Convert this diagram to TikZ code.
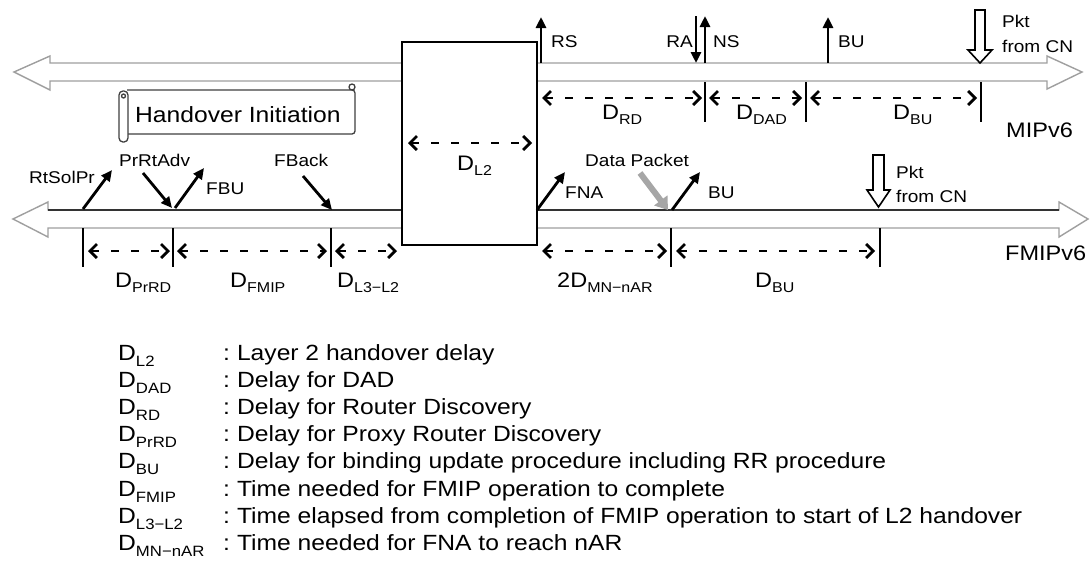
\documentclass[tikz,border=0pt]{standalone}
\usepackage{graphicx}
\usepackage{fontspec}
\setmainfont{Liberation Sans}[FakeStretch=1.12]
\usetikzlibrary{arrows.meta}
\newcommand\DD[1]{D\raisebox{-0.28em}{\scalebox{0.68}{#1}}}
\begin{document}
\begin{tikzpicture}[x=1pt,y=-1pt,
  lbl/.style={anchor=base west,inner sep=0pt,font=\fontsize{17}{20}\selectfont},
  dlbl/.style={anchor=base west,inner sep=0pt,font=\fontsize{21}{24}\selectfont},
  leg/.style={anchor=base west,inner sep=0pt,font=\fontsize{22}{25}\selectfont},
  msg/.style={line width=2.8pt,-{Triangle[length=11pt,width=10pt]}},
  pktmsg/.style={line width=6pt,draw=gray!70,-{Triangle[length=12pt,width=16pt]}},
  dimline/.style={line width=2.8pt,dash pattern=on 8pt off 12pt,
    {Straight Barb[length=7pt,width=14pt]}-{Straight Barb[length=7pt,width=14pt]}},
  tickline/.style={line width=2.7pt},
  bigarrow/.style={draw=gray!75,fill=white,line width=1.4pt},
  hollow/.style={draw=black,fill=white,line width=1.6pt,line join=miter},
  scroll/.style={draw=black!75,line width=1.3pt}]
\useasboundingbox[fill=white] (0,0) rectangle (1090,563);

% timelines
\draw[bigarrow] (50,63) -- (1047,63) -- (1047,56) -- (1082,72) -- (1047,89) -- (1047,81)
  -- (50,81) -- (50,90) -- (14,72) -- (50,56) -- cycle;
\draw[bigarrow] (48,210) -- (1059,210) -- (1059,202) -- (1088,219) -- (1059,237) -- (1059,228)
  -- (48,228) -- (48,237) -- (13,219) -- (48,202) -- cycle;
\draw[black!80,line width=1.2pt] (48,210) -- (1059,210);

% handover initiation scroll
\draw[scroll,rounded corners=3pt] (127,90) -- (355,90) -- (355,134) -- (127,134);
\draw[scroll] (352,87) circle[radius=3pt];
\draw[scroll,fill=white,rounded corners=4pt] (119,91) rectangle (128,142);
\draw[scroll] (123.5,96) circle[radius=2pt];
\node[anchor=base west,inner sep=0pt,font=\fontsize{22}{26}\selectfont] (hi) at (135,122) {Handover Initiation};

% L2 box
\draw[line width=1.2pt,fill=white] (402,42) rectangle (537,245);
\coordinate (l2a) at (408,143); \coordinate (l2b) at (532,143);
\draw[dimline] (l2a) -- (l2b);
\node[dlbl] (dl2) at (457,170) {\DD{L2}};

% MIPv6 messages
\coordinate (rs0) at (541,63); \coordinate (rs1) at (541,17);
\coordinate (ra0) at (696,16); \coordinate (ra1) at (696,63);
\coordinate (ns0) at (705,63); \coordinate (ns1) at (705,16);
\coordinate (bu0) at (828,63); \coordinate (bu1) at (828,17);
\draw[msg] (rs0) -- (rs1);
\draw[msg] (ra0) -- (ra1);
\draw[msg] (ns0) -- (ns1);
\draw[msg] (bu0) -- (bu1);
\node[lbl] (rs) at (551,47) {RS};
\node[lbl,anchor=base east] (ra) at (693,47) {RA};
\node[lbl] (ns) at (713,47) {NS};
\node[lbl] (bu) at (838,47) {BU};
\draw[hollow] (975,10) -- (985,10) -- (985,50) -- (992,50) -- (980,63) -- (968,50) -- (975,50) -- cycle;
\node[lbl] (pkt1) at (1002,27) {Pkt};
\node[lbl] (from1) at (1002,52) {from CN};

% MIPv6 delays
\foreach \x in {705,806,981} \draw[tickline] (\x,82) -- (\x,122);
\draw[dimline] (542,98) -- (702,98);
\draw[dimline] (709,98) -- (802,98);
\draw[dimline] (810,98) -- (977,98);
\node[dlbl] (drd) at (602,119) {\DD{RD}};
\node[dlbl] (ddad) at (736,119) {\DD{DAD}};
\node[dlbl] (dbu1) at (893,119) {\DD{BU}};
\node[dlbl] (mip) at (1006,137) {MIPv6};

% FMIPv6 messages
\coordinate (a0) at (83,209); \coordinate (a1) at (112,170);
\coordinate (b0) at (143,173); \coordinate (b1) at (172,208);
\coordinate (c0) at (175,208); \coordinate (c1) at (204,168);
\coordinate (d0) at (303,176); \coordinate (d1) at (332,210);
\coordinate (e0) at (537,210); \coordinate (e1) at (565,172);
\coordinate (f0) at (640,173); \coordinate (f1) at (668,210);
\coordinate (g0) at (672,210); \coordinate (g1) at (700,172);
\draw[msg] (a0) -- (a1);
\draw[msg] (b0) -- (b1);
\draw[msg] (c0) -- (c1);
\draw[msg] (d0) -- (d1);
\draw[msg] (e0) -- (e1);
\draw[pktmsg] (f0) -- (f1);
\draw[msg] (g0) -- (g1);
\node[lbl] (rtsol) at (29,183) {RtSolPr};
\node[lbl] (prrt) at (119,166) {PrRtAdv};
\node[lbl] (fbu) at (206,194) {FBU};
\node[lbl] (fback) at (274,166) {FBack};
\node[lbl] (fna) at (565,198) {FNA};
\node[lbl] (dp) at (585,166) {Data Packet};
\node[lbl] (bu2) at (708,198) {BU};
\draw[hollow] (873,155) -- (884,155) -- (884,190) -- (890,190) -- (878.5,207) -- (867,190) -- (873,190) -- cycle;
\node[lbl] (pkt2) at (896,178) {Pkt};
\node[lbl] (from2) at (896,202) {from CN};

% FMIPv6 delays
\foreach \x in {83,173,331,671,880} \draw[tickline] (\x,228) -- (\x,267);
\draw[dimline] (88,251) -- (170,251);
\draw[dimline] (177,251) -- (327,251);
\draw[dimline] (335,251) -- (397,251);
\draw[dimline] (542,251) -- (667,251);
\draw[dimline] (676,251) -- (875,251);
\node[dlbl] (dprrd) at (115,287) {\DD{PrRD}};
\node[dlbl] (dfmip) at (230,287) {\DD{FMIP}};
\node[dlbl] (dl3) at (337,287) {\DD{L3−L2}};
\node[dlbl] (dmn) at (557,287) {2\DD{MN−nAR}};
\node[dlbl] (dbu2) at (755,287) {\DD{BU}};
\node[dlbl] (fmip) at (1005,260) {FMIPv6};

% legend
\foreach \s/\t [count=\i from 0] in {L2/Layer 2 handover delay,
  DAD/Delay for DAD,
  RD/Delay for Router Discovery,
  PrRD/Delay for Proxy Router Discovery,
  BU/Delay for binding update procedure including RR procedure,
  FMIP/Time needed for FMIP operation to complete,
  L3−L2/Time elapsed from completion of FMIP operation to start of L2 handover,
  MN−nAR/Time needed for FNA to reach nAR} {
  \node[leg] (k\i) at (118,360+27.2*\i) {\DD{\s}};
  \node[leg] (v\i) at (223,360+27.2*\i) {:\hspace{7pt}\t};
}
\end{tikzpicture}
\end{document}
